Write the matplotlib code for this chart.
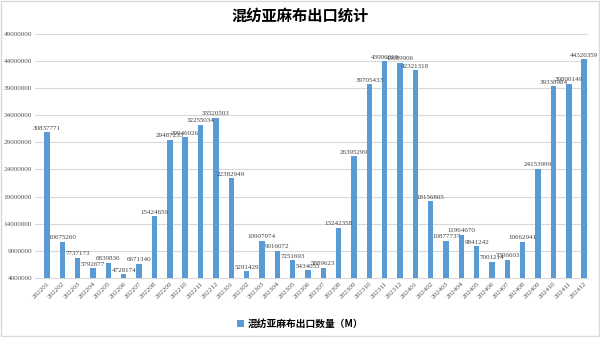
import numpy as np
import matplotlib
matplotlib.use("Agg")
import matplotlib.pyplot as plt
from matplotlib.patches import Rectangle

plt.rcParams['font.family'] = ['Noto Sans CJK SC', 'DejaVu Sans']

months = ['202201', '202202', '202203', '202204', '202205', '202206',
          '202207', '202208', '202209', '202210', '202211', '202212',
          '202301', '202302', '202303', '202304', '202305', '202306',
          '202307', '202308', '202309', '202310', '202311', '202312',
          '202401', '202402', '202403', '202404', '202405', '202406',
          '202407', '202408', '202409', '202410', '202411', '202412']
export_qty = [30837771, 10675260, 7737173, 5792677, 6839836, 4728174,
              6671340, 15424659, 29487233, 29946026, 32255034, 33520503,
              22382949, 5291429, 10907974, 9016072, 7251693, 5434055,
              5889623, 13242358, 26395299, 39705433, 43906019, 43689906,
              42321318, 18156805, 10877737, 11964670, 9841242, 7001214,
              7396603, 10662941, 24153999, 39338984, 39800149, 44326359]
y_ticks = [4000000, 9000000, 14000000, 19000000, 24000000,
           29000000, 34000000, 39000000, 44000000, 49000000]

bar_color = '#5B9BD5'
num_font = 'Liberation Serif'

fig = plt.figure(figsize=(6.0, 3.37), dpi=100)
ax = fig.add_axes([0.058, 0.175, 0.922, 0.725])

x = np.arange(len(months))
ax.bar(x, np.array(export_qty) - y_ticks[0], bottom=y_ticks[0], width=0.35,
       color=bar_color, zorder=3, label='混纺亚麻布出口数量（M）')

for xi, v in zip(x, export_qty):
    ax.text(xi, v + 250000, str(v), ha='center', va='bottom', fontsize=5,
            family=num_font, color='#404040', zorder=4)

ax.set_ylim(y_ticks[0], y_ticks[-1])
ax.set_yticks(y_ticks)
ax.set_yticklabels([str(t) for t in y_ticks], family=num_font, fontsize=5.2, color='#595959')
ax.set_xlim(-0.8, len(months) - 0.75)
ax.set_xticks(x)
ax.set_xticklabels(months, rotation=45, ha='right', rotation_mode='anchor',
                   family=num_font, fontsize=5.2, color='#595959')
ax.tick_params(axis='both', length=0, pad=2)

ax.grid(axis='y', color='#D9D9D9', linewidth=0.8, zorder=0)
for side in ['top', 'right', 'left']:
    ax.spines[side].set_visible(False)
ax.spines['bottom'].set_color('#D9D9D9')

fig.text(0.5, 0.955, '混纺亚麻布出口统计', ha='center', va='center',
         fontsize=11, fontweight='bold', color='#000000')

fig.legend(loc='center', bbox_to_anchor=(0.5, 0.04), frameon=False,
           handlelength=0.7, handleheight=0.7, handletextpad=0.4,
           prop={'family': ['Noto Sans CJK SC', 'DejaVu Sans'], 'weight': 'bold', 'size': 7})

fig.patches.append(Rectangle((0.002, 0.003), 0.996, 0.994, transform=fig.transFigure,
                             fill=False, edgecolor='#D9D9D9', linewidth=1))

fig.savefig('out.png', dpi=100, facecolor='white')
